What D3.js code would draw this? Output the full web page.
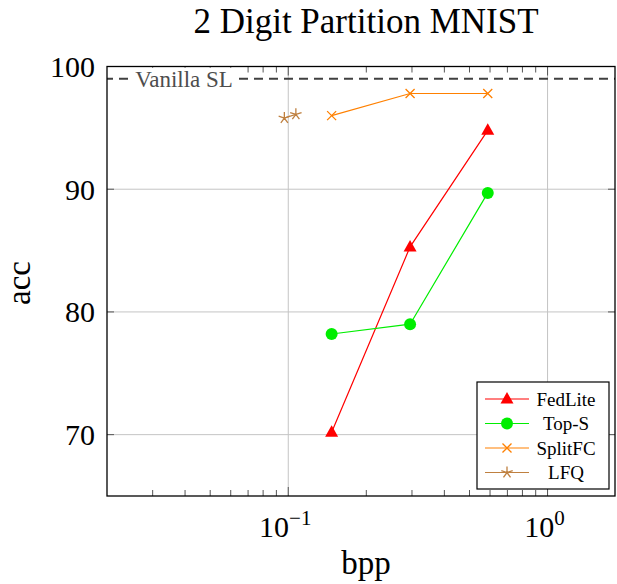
<!DOCTYPE html>
<html>
<head>
<meta charset="utf-8">
<script src="https://cdn.jsdelivr.net/npm/d3@7"></script>
<style>
  body { margin: 0; background: #fff; }
</style>
</head>
<body>
<svg id="chart" width="617" height="584"></svg>
<script>
// data
var seriesNames = ["FedLite", "Top-S", "SplitFC", "LFQ"];
var fedliteBpp = [0.147, 0.295, 0.588];
var fedliteAcc = [70.2, 85.3, 94.8];
var topsBpp = [0.147, 0.295, 0.588];
var topsAcc = [78.2, 79.0, 89.7];
var splitfcBpp = [0.147, 0.295, 0.588];
var splitfcAcc = [96.0, 97.8, 97.8];
var lfqBpp = [0.0966, 0.107];
var lfqAcc = [95.8, 96.1];
var vanillaAcc = 99.0;
var yTicks = [70, 80, 90, 100];
var xTicks = [0.1, 1];

var svg = d3.select("#chart");
var margin = {top: 66.5, right: 2, bottom: 88, left: 107};
var width = 617 - margin.left - margin.right,
    height = 584 - margin.top - margin.bottom;

var x = d3.scaleLog().domain([0.02, 1.82]).range([0, width]);
var y = d3.scaleLinear().domain([65, 100]).range([height, 0]);

var g = svg.append("g").attr("transform", "translate(" + margin.left + "," + margin.top + ")");

// grid
g.selectAll("line.gx").data(xTicks).enter().append("line")
  .attr("x1", d => x(d)).attr("x2", d => x(d))
  .attr("y1", 0).attr("y2", height)
  .attr("stroke", "#c4c4c4").attr("stroke-width", 1);
g.selectAll("line.gy").data(yTicks).enter().append("line")
  .attr("x1", 0).attr("x2", width)
  .attr("y1", d => y(d)).attr("y2", d => y(d))
  .attr("stroke", "#c4c4c4").attr("stroke-width", 1);

// minor ticks on the log axis (top and bottom, inside)
var minor = [];
[0.01, 0.1, 1].forEach(function(dec) {
  for (var k = 2; k <= 9; k++) {
    var v = dec * k;
    if (v > 0.02 && v < 1.82) minor.push(v);
  }
});
g.selectAll("line.mb").data(minor).enter().append("line")
  .attr("x1", d => x(d)).attr("x2", d => x(d))
  .attr("y1", height).attr("y2", height - 6)
  .attr("stroke", "#555").attr("stroke-width", 1);
g.selectAll("line.mt").data(minor).enter().append("line")
  .attr("x1", d => x(d)).attr("x2", d => x(d))
  .attr("y1", 0).attr("y2", 6)
  .attr("stroke", "#555").attr("stroke-width", 1);
// major ticks
g.selectAll("line.tb").data(xTicks).enter().append("line")
  .attr("x1", d => x(d)).attr("x2", d => x(d))
  .attr("y1", height).attr("y2", height - 9)
  .attr("stroke", "#555");
g.selectAll("line.tt").data(xTicks).enter().append("line")
  .attr("x1", d => x(d)).attr("x2", d => x(d))
  .attr("y1", 0).attr("y2", 9)
  .attr("stroke", "#555");
g.selectAll("line.tl").data(yTicks).enter().append("line")
  .attr("x1", 0).attr("x2", 7)
  .attr("y1", d => y(d)).attr("y2", d => y(d))
  .attr("stroke", "#555");
g.selectAll("line.tr").data(yTicks).enter().append("line")
  .attr("x1", width).attr("x2", width - 7)
  .attr("y1", d => y(d)).attr("y2", d => y(d))
  .attr("stroke", "#555");

// tick labels
g.selectAll("text.yl").data(yTicks).enter().append("text")
  .attr("x", -12).attr("y", d => y(d)).attr("dy", "0.35em")
  .attr("text-anchor", "end").attr("font-size", 30)
  .text(d => d);

var xl = g.selectAll("text.xl").data(xTicks).enter().append("text")
  .attr("x", d => x(d) - 3).attr("y", height + 41)
  .attr("text-anchor", "middle").attr("font-size", 30);
xl.append("tspan").text("10");
xl.append("tspan").attr("dy", -12).attr("font-size", 21)
  .text(d => d === 1 ? "0" : "\u22121");

// vanilla SL reference line
g.append("line")
  .attr("x1", 0).attr("x2", width)
  .attr("y1", y(vanillaAcc)).attr("y2", y(vanillaAcc))
  .attr("stroke", "#404040").attr("stroke-width", 2)
  .attr("stroke-dasharray", "9,6").attr("stroke-dashoffset", 3);
g.append("rect").attr("x", 22).attr("y", y(vanillaAcc) - 11)
  .attr("width", 109).attr("height", 22).attr("fill", "#fff");
g.append("text").attr("x", 77).attr("y", y(vanillaAcc)).attr("dy", "0.35em")
  .attr("text-anchor", "middle")
  .attr("font-size", 23).attr("fill", "#4d4d4d").text("Vanilla SL");

// series
var line = d3.line().x(d => x(d[0])).y(d => y(d[1]));
var series = [
  {name: seriesNames[0], color: "#ff0000", marker: "tri", pts: d3.zip(fedliteBpp, fedliteAcc)},
  {name: seriesNames[1], color: "#00ee00", marker: "circ", pts: d3.zip(topsBpp, topsAcc)},
  {name: seriesNames[2], color: "#ff8000", marker: "x", pts: d3.zip(splitfcBpp, splitfcAcc)},
  {name: seriesNames[3], color: "#bf8040", marker: "star", pts: d3.zip(lfqBpp, lfqAcc)}
];

function drawMarker(sel, type, color) {
  if (type === "tri") {
    sel.append("path").attr("d", "M0,-7L6.5,4.5L-6.5,4.5Z").attr("fill", color);
  } else if (type === "circ") {
    sel.append("circle").attr("r", 6).attr("fill", color);
  } else if (type === "x") {
    sel.append("path").attr("d", "M-4.5,-4.5L4.5,4.5M-4.5,4.5L4.5,-4.5")
      .attr("stroke", color).attr("stroke-width", 1.3).attr("fill", "none");
  } else {
    var p = "";
    for (var i = 0; i < 5; i++) {
      var a = -Math.PI / 2 + i * 2 * Math.PI / 5;
      p += "M0,0L" + (6 * Math.cos(a)).toFixed(2) + "," + (6 * Math.sin(a)).toFixed(2);
    }
    sel.append("path").attr("d", p).attr("stroke", color).attr("stroke-width", 1.3).attr("fill", "none");
  }
}

series.forEach(function(s) {
  g.append("path").datum(s.pts).attr("d", line)
    .attr("fill", "none").attr("stroke", s.color).attr("stroke-width", 1.2);
  g.selectAll(null).data(s.pts).enter().append("g")
    .attr("transform", d => "translate(" + x(d[0]) + "," + y(d[1]) + ")")
    .each(function() { drawMarker(d3.select(this), s.marker, s.color); });
});

// axis box
g.append("rect").attr("width", width).attr("height", height)
  .attr("fill", "none").attr("stroke", "#000").attr("stroke-width", 1.3);

// legend
var lg = svg.append("g").attr("transform", "translate(477,382)");
lg.append("rect").attr("width", 132).attr("height", 107)
  .attr("fill", "#fff").attr("stroke", "#000").attr("stroke-width", 1.2);
series.forEach(function(s, i) {
  var yy = 17 + i * 24.5;
  lg.append("line").attr("x1", 8).attr("x2", 52).attr("y1", yy).attr("y2", yy)
    .attr("stroke", s.color).attr("stroke-width", 1.2);
  drawMarker(lg.append("g").attr("transform", "translate(30," + yy + ")"), s.marker, s.color);
  lg.append("text").attr("x", 89).attr("y", yy).attr("dy", "0.35em")
    .attr("text-anchor", "middle").attr("font-size", 19).text(s.name);
});

// titles
svg.append("text").attr("x", 366).attr("y", 33).attr("text-anchor", "middle")
  .attr("font-size", 35).text("2 Digit Partition MNIST");
svg.append("text").attr("x", 366).attr("y", 574).attr("text-anchor", "middle")
  .attr("font-size", 33).text("bpp");
svg.append("text").attr("transform", "translate(30,283) rotate(-90)")
  .attr("text-anchor", "middle").attr("font-size", 33).text("acc");

// serif face on every label
svg.selectAll("text").style("font-family", "'Liberation Serif'");
</script>
</body>
</html>
